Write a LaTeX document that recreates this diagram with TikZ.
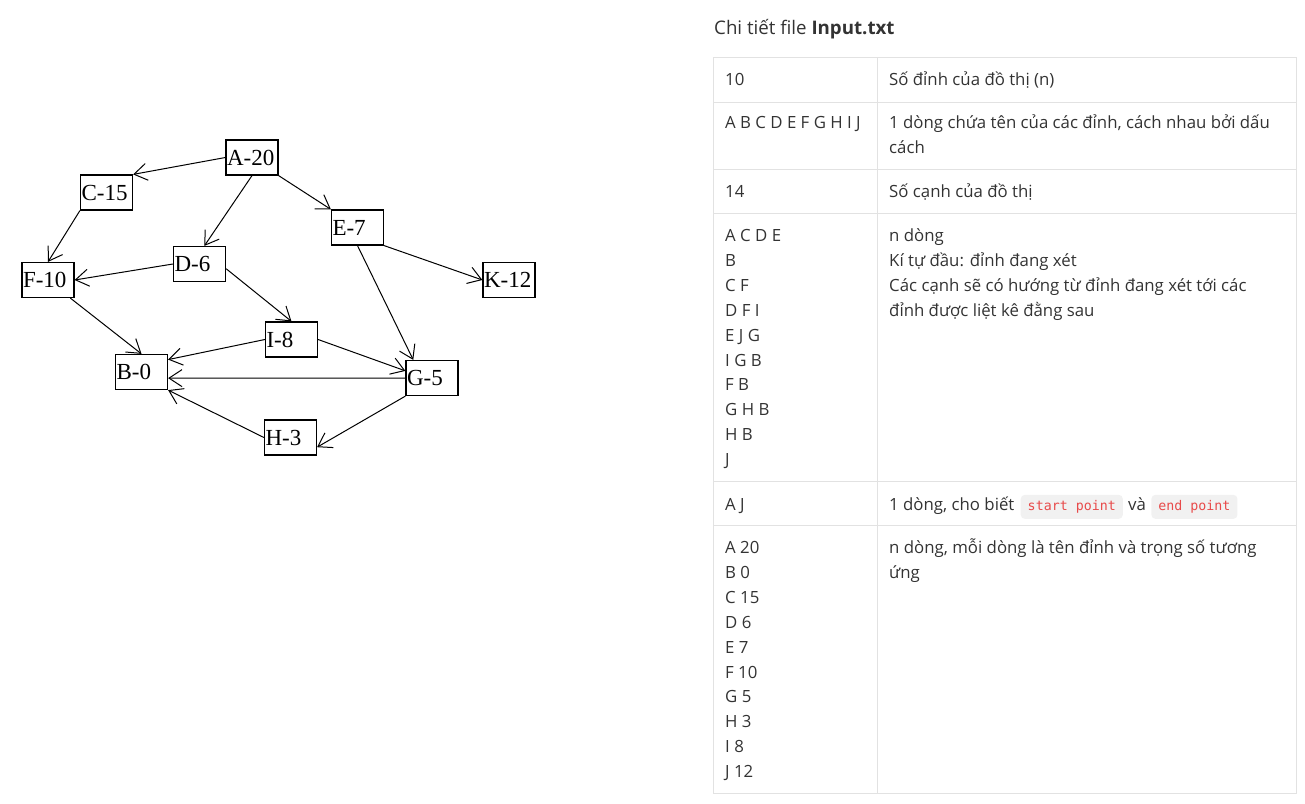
\documentclass[tikz,border=0pt]{standalone}
\usepackage{fontspec}
\usepackage{tikz}
\usetikzlibrary{arrows.meta,positioning}
\setmainfont{Open Sans}
\newfontfamily\graphfont{Liberation Serif}
\newfontfamily\codefont{DejaVu Sans Mono}
\definecolor{textgray}{RGB}{51,51,51}
\definecolor{rulegray}{RGB}{226,226,226}
\definecolor{codered}{RGB}{232,74,74}
\definecolor{codebg}{RGB}{241,241,241}

\begin{document}
\begin{tikzpicture}[x=1pt,y=-1pt,
  vertex/.style={draw,line width=1.2pt,minimum height=35pt,text width=50pt,
    inner xsep=1pt,inner ysep=0pt,align=left,
    font=\graphfont\fontsize{23}{23}\selectfont},
  edge/.style={line width=1pt,-{Straight Barb[length=13pt,width=17pt]}},
  cell/.style={anchor=base west,inner sep=0pt,text=textgray,
    font=\fontsize{16.8}{20}\selectfont},
  codechip/.style={fill=codebg,rounded corners=4pt,text=codered,
    inner xsep=7pt,minimum height=24pt,font=\codefont\fontsize{13.3}{13}\selectfont}]

\useasboundingbox (0,0) rectangle (1305,803);

% Vertices of the graph
\node[vertex] (A) at (252,157.5) {A-20};
\node[vertex] (C) at (106.5,192.5) {C-15};
\node[vertex] (D) at (199.5,264) {D-6};
\node[vertex] (E) at (357.5,227.5) {E-7};
\node[vertex] (F) at (48,280) {F-10};
\node[vertex] (K) at (509,280) {K-12};
\node[vertex] (I) at (291.5,339.5) {I-8};
\node[vertex] (B) at (141.5,372) {B-0};
\node[vertex] (G) at (432,378) {G-5};
\node[vertex] (H) at (290.5,437.5) {H-3};

% Directed edges
\draw[edge] (A.west) -- (C.north east);
\draw[edge] (A.south) -- (D.75);
\draw[edge] (A.south east) -- (E.north west);
\draw[edge] (C.south west) -- (F.north);
\draw[edge] (D.west) -- (F.east);
\draw[edge] (D.-10) -- (I.north);
\draw[edge] (E.south east) -- (K.west);
\draw[edge] (E.south) -- (G.136);
\draw[edge] (F.-39) -- (B.north);
\draw[edge] (I.west) -- (B.25);
\draw[edge] (I.east) -- (G.165);
\draw[edge] (G.west) -- (B.-13);
\draw[edge] (G.south west) -- (H.-20);
\draw[edge] (H.west) -- (B.south east);

% Title
\node[cell,font=\fontsize{18.7}{20}\selectfont] (title) at (714,34) {Chi tiết file \textbf{Input.txt}};

% Table grid
\def\rowgap{24.9}
\draw[rulegray,line width=1pt] (713,57) rectangle (1296,793);
\draw[rulegray,line width=1pt] (877,57) -- (877,793);
\foreach \y in {102,169,213,481,525}
  \draw[rulegray,line width=1pt] (713,\y) -- (1296,\y);

% Row: number of vertices
\node[cell] (nval) at (725,85.5) {10};
\node[cell] (ndesc) at (889,85.5) {Số đỉnh của đồ thị (n)};

% Row: vertex names
\node[cell] (names) at (725,128.5) {A B C D E F G H I J};
\node[cell] (namesdesc) at (889,128.5) {1 dòng chứa tên của các đỉnh, cách nhau bởi dấu};
\node[cell] (namesdesc2) at (889,153.5) {cách};

% Row: number of edges
\node[cell] (mval) at (725,197.5) {14};
\node[cell] (mdesc) at (889,197.5) {Số cạnh của đồ thị};

% Row: adjacency lines
\foreach \t [count=\i from 0] in {A C D E,B,C F,D F I,E J G,I G B,F B,G H B,H B,J}
  \node[cell] (adj\i) at (725,241.5+\rowgap*\i) {\t};
\foreach \t [count=\i from 0] in {n dòng,Kí tự đầu: đỉnh đang xét,
    Các cạnh sẽ có hướng từ đỉnh đang xét tới các,đỉnh được liệt kê đằng sau}
  \node[cell] (adjdesc\i) at (889,241.5+\rowgap*\i) {\t};

% Row: start and end point
\node[cell] (ends) at (725,510.5) {A J};
\node[cell] (endsdesc) at (889,510.5) {1 dòng, cho biết};
\node[codechip,base right=6pt of endsdesc] (startpt) {start point};
\node[cell,base right=5pt of startpt] (va) {và};
\node[codechip,base right=5pt of va] (endpt) {end point};

% Row: weights
\foreach \t [count=\i from 0] in {A 20,B 0,C 15,D 6,E 7,F 10,G 5,H 3,I 8,J 12}
  \node[cell] (wt\i) at (725,553.5+\rowgap*\i) {\t};
\node[cell] (wtdesc) at (889,553.5) {n dòng, mỗi dòng là tên đỉnh và trọng số tương};
\node[cell] (wtdesc2) at (889,578.5) {ứng};

\end{tikzpicture}
\end{document}
